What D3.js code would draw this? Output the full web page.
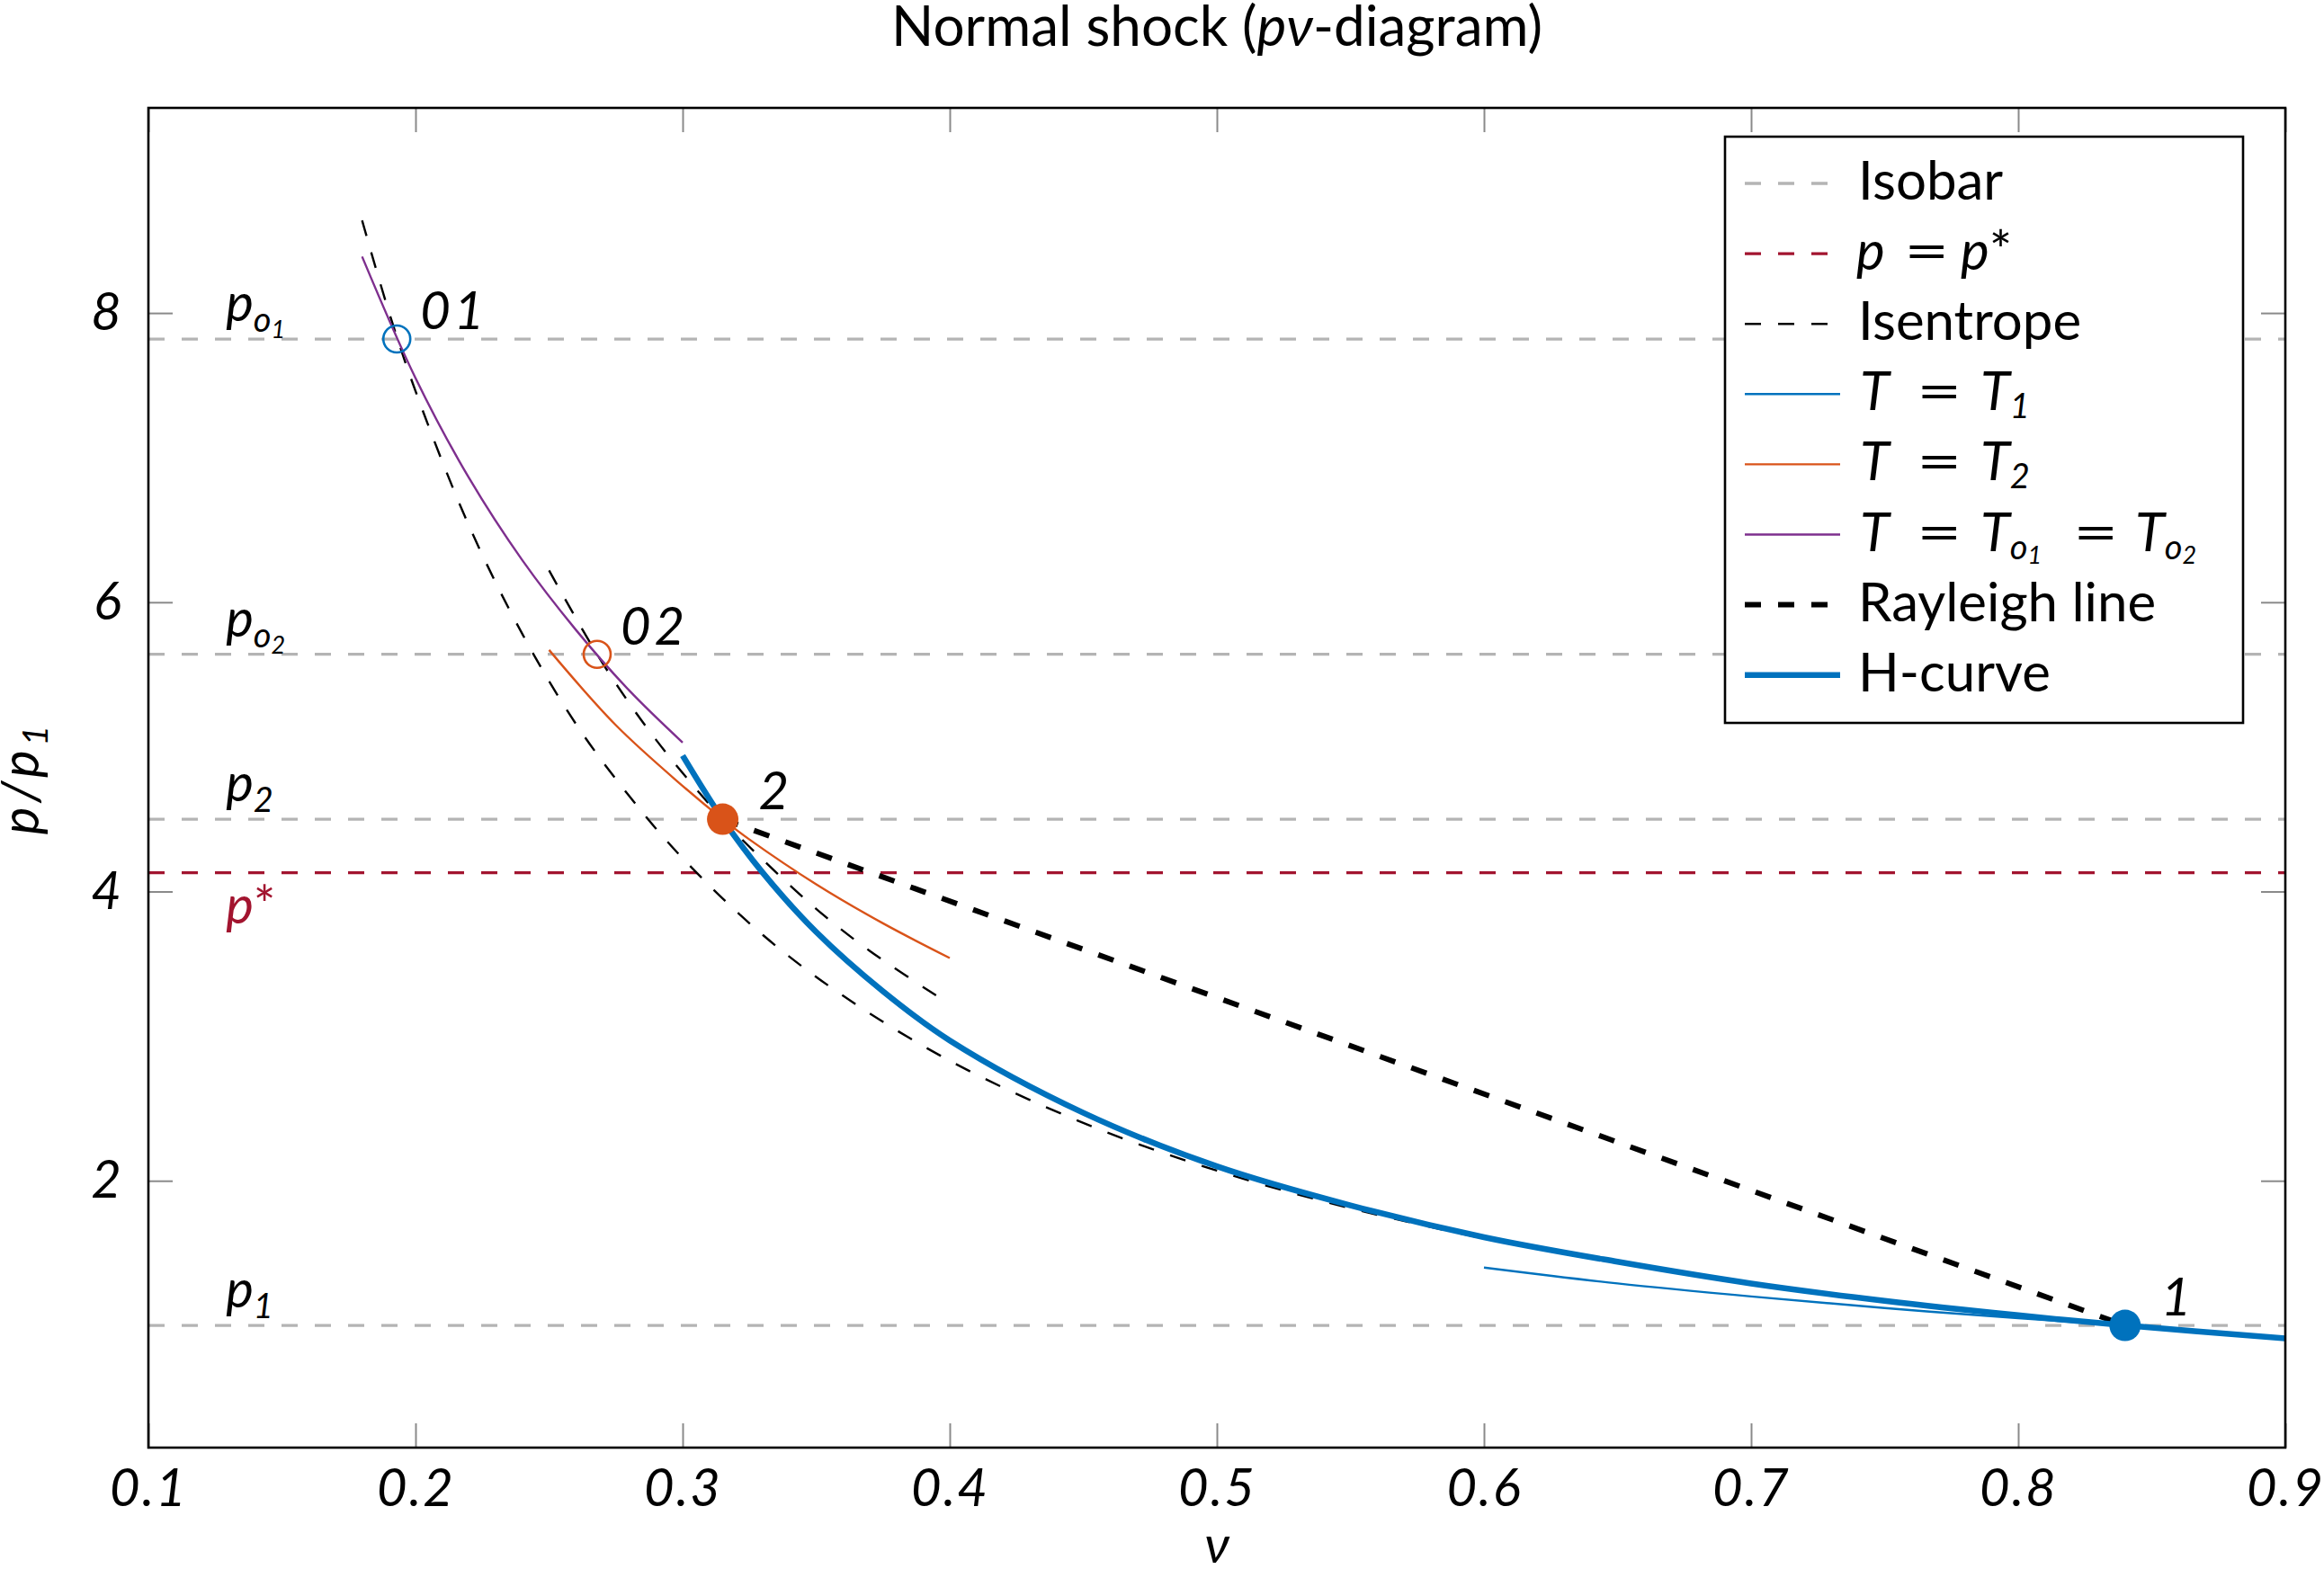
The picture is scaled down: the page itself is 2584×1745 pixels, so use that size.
<!DOCTYPE html>
<html>
<head>
<meta charset="utf-8"/>
<title>Normal shock (pv-diagram)</title>
<script src="https://d3js.org/d3.v7.min.js"></script>
<style>
    body { margin: 0; background: #ffffff; }
    svg text { font-family: 'Lato', 'DejaVu Sans', sans-serif; fill: #000000; }
</style>
</head>
<body>
<div id="chart"></div>
<script>
    // axis ticks
    const xTicks = [0.1, 0.2, 0.3, 0.4, 0.5, 0.6, 0.7, 0.8, 0.9]
    const yTicks = [2, 4, 6, 8]

    // isobars p1, p2, p02, p01 and the critical pressure
    const isobarP = [1.0, 4.5, 5.64, 7.82]
    const isobarSub = ['1', '2', 'o', 'o']
    const isobarSubSub = ['', '', '2', '1']
    const pStar = 4.13
    const labelNu = 0.129

    // states 1, 2, 01, 02
    const stateNames = ['1', '2', '01', '02']
    const stateNu = [0.84, 0.315, 0.193, 0.268]
    const stateP = [1.0, 4.5, 7.82, 5.64]

    // isentrope through 1 (and 01)
    const isentropeANu = [0.18, 0.19, 0.20, 0.22, 0.24, 0.26, 0.28, 0.30, 0.33, 0.36, 0.40, 0.45, 0.50, 0.55, 0.60]
    const isentropeAP = [8.64, 8.01, 7.46, 6.53, 5.78, 5.16, 4.66, 4.23, 3.70, 3.28, 2.83, 2.40, 2.07, 1.81, 1.60]
    // isentrope through 2 (and 02)
    const isentropeBNu = [0.25, 0.27, 0.29, 0.315, 0.33, 0.35, 0.37, 0.40]
    const isentropeBP = [6.22, 5.58, 5.05, 4.50, 4.22, 3.88, 3.59, 3.22]

    // isotherms
    const isoT1Nu = [0.60, 0.65, 0.70, 0.75, 0.80, 0.84]
    const isoT1P = [1.40, 1.29, 1.20, 1.12, 1.05, 1.00]
    const isoT2Nu = [0.25, 0.275, 0.30, 0.315, 0.325, 0.35, 0.375, 0.40]
    const isoT2P = [5.67, 5.15, 4.73, 4.50, 4.36, 4.05, 3.78, 3.54]
    const isoT0Nu = [0.18, 0.20, 0.22, 0.24, 0.26, 0.28, 0.30]
    const isoT0P = [8.39, 7.55, 6.86, 6.29, 5.81, 5.39, 5.03]

    // Rayleigh line and Hugoniot curve
    const rayleighNu = [0.315, 0.84]
    const rayleighP = [4.5, 1.0]
    const hCurveNu = [0.30, 0.315, 0.33, 0.35, 0.375, 0.40, 0.45, 0.50, 0.55, 0.60, 0.65, 0.70, 0.75, 0.80, 0.84, 0.90]
    const hCurveP = [4.94, 4.50, 4.13, 3.72, 3.31, 2.97, 2.47, 2.10, 1.83, 1.61, 1.44, 1.29, 1.17, 1.07, 1.00, 0.91]

    const BLUE = '#0072bd'
    const ORANGE = '#d95319'
    const PURPLE = '#7e2f8e'
    const DARK_RED = '#a2142f'
    const ISOBAR_GRAY = '#b4b4b4'
    const TICK_GRAY = '#8a8a8a'
    const DASH = '18,19'

    const width = 2584
    const height = 1745
    const plot = { left: 165, right: 2541, top: 120, bottom: 1610 }

    const svg = d3.select('#chart').append('svg')
        .attr('width', width)
        .attr('height', height)

    const x = d3.scaleLinear().domain([0.1, 0.9]).range([plot.left, plot.right])
    const y = d3.scaleLinear().domain([0.155, 9.418]).range([plot.bottom, plot.top])

    svg.append('clipPath').attr('id', 'plotClip')
        .append('rect')
        .attr('x', plot.left).attr('y', plot.top)
        .attr('width', plot.right - plot.left)
        .attr('height', plot.bottom - plot.top)

    drawTitle()
    drawTicks()

    const layer = svg.append('g').attr('clip-path', 'url(#plotClip)')

    // isobars
    isobarP.forEach(p => {
        layer.append('line')
            .attr('x1', x(0.1)).attr('x2', x(0.9))
            .attr('y1', y(p)).attr('y2', y(p))
            .style('stroke', ISOBAR_GRAY)
            .style('stroke-width', 3.3)
            .style('stroke-dasharray', DASH)
    })
    layer.append('line')
        .attr('x1', x(0.1)).attr('x2', x(0.9))
        .attr('y1', y(pStar)).attr('y2', y(pStar))
        .style('stroke', DARK_RED)
        .style('stroke-width', 3.3)
        .style('stroke-dasharray', DASH)

    drawCurve(isentropeANu, isentropeAP, '#000000', 2.4, DASH)
    drawCurve(isentropeBNu, isentropeBP, '#000000', 2.4, DASH)
    drawCurve(isoT1Nu, isoT1P, BLUE, 2.4, null)
    drawCurve(isoT2Nu, isoT2P, ORANGE, 2.4, null)
    drawCurve(isoT0Nu, isoT0P, PURPLE, 2.4, null)
    drawCurve(rayleighNu, rayleighP, '#000000', 6, DASH)
    drawCurve(hCurveNu, hCurveP, BLUE, 6.5, null)

    // frame
    svg.append('rect')
        .attr('x', plot.left).attr('y', plot.top)
        .attr('width', plot.right - plot.left)
        .attr('height', plot.bottom - plot.top)
        .style('fill', 'none')
        .style('stroke', '#000000')
        .style('stroke-width', 2.6)

    drawIsobarLabels()
    drawStates()
    drawAxisLabels()
    drawLegend()

    function drawCurve(nu, p, color, strokeWidth, dash) {
        const line = d3.line()
            .x(d => x(d[0]))
            .y(d => y(d[1]))
            .curve(d3.curveCatmullRom.alpha(0.5))
        layer.append('path')
            .datum(nu.map((v, i) => [v, p[i]]))
            .attr('d', line)
            .style('fill', 'none')
            .style('stroke', color)
            .style('stroke-width', strokeWidth)
            .style('stroke-dasharray', dash)
    }

    function drawTitle() {
        const t = svg.append('text')
            .attr('x', (plot.left + plot.right) / 2)
            .attr('y', 51)
            .attr('text-anchor', 'middle')
            .style('font-size', '62px')
        t.append('tspan').text('Normal shock (')
        t.append('tspan').style('font-style', 'italic').text('pν')
        t.append('tspan').text('-diagram)')
    }

    function drawTicks() {
        const styleAxis = g => {
            g.select('.domain').remove()
            g.selectAll('.tick line').style('stroke', TICK_GRAY).style('stroke-width', 2)
            g.selectAll('.tick text')
                .style('font-family', "'Lato', sans-serif")
                .style('font-style', 'italic')
                .style('font-size', '58px')
                .style('letter-spacing', '2px')
                .style('fill', '#000000')
        }
        svg.append('g')
            .attr('transform', `translate(0,${plot.bottom})`)
            .call(d3.axisBottom(x).tickValues(xTicks).tickSize(-27).tickPadding(24).tickFormat(d3.format('.1f')))
            .call(styleAxis)
        svg.append('g')
            .attr('transform', `translate(0,${plot.top})`)
            .call(d3.axisTop(x).tickValues(xTicks).tickSize(-27).tickFormat(''))
            .call(styleAxis)
        svg.append('g')
            .attr('transform', `translate(${plot.left},0)`)
            .call(d3.axisLeft(y).tickValues(yTicks).tickSize(-27).tickPadding(28).tickFormat(d3.format('d')))
            .call(styleAxis)
        svg.append('g')
            .attr('transform', `translate(${plot.right},0)`)
            .call(d3.axisRight(y).tickValues(yTicks).tickSize(-27).tickFormat(''))
            .call(styleAxis)
    }

    function drawIsobarLabels() {
        isobarP.forEach((p, i) => {
            const t = svg.append('text')
                .attr('x', x(labelNu))
                .attr('y', y(p) - 20)
                .style('font-size', '58px')
                .style('font-style', 'italic')
            t.append('tspan').text('p')
            t.append('tspan').attr('dy', 12).style('font-size', '38px').text(isobarSub[i])
            if (isobarSubSub[i]) {
                t.append('tspan').attr('dy', 7).style('font-size', '27px').text(isobarSubSub[i])
            }
        })
        const s = svg.append('text')
            .attr('x', x(labelNu))
            .attr('y', y(pStar) + 56)
            .style('font-size', '58px')
            .style('font-style', 'italic')
            .style('fill', DARK_RED)
        s.append('tspan').style('fill', DARK_RED).text('p')
        s.append('tspan').style('font-style', 'normal').style('fill', DARK_RED).text('*')
    }

    function drawStates() {
        const colors = [BLUE, ORANGE, BLUE, ORANGE]
        stateNames.forEach((name, i) => {
            const filled = name.length === 1
            svg.append('circle')
                .attr('cx', x(stateNu[i]))
                .attr('cy', y(stateP[i]))
                .attr('r', filled ? 17.5 : 15)
                .style('fill', filled ? colors[i] : 'none')
                .style('stroke', colors[i])
                .style('stroke-width', filled ? 0 : 2.6)
            svg.append('text')
                .attr('x', x(stateNu[i]) + (filled ? 40 : 26))
                .attr('y', y(stateP[i]) - 11)
                .style('font-size', '58px')
                .style('font-style', 'italic')
                .style('letter-spacing', '4px')
                .text(name)
        })
    }

    function drawAxisLabels() {
        svg.append('text')
            .attr('x', (plot.left + plot.right) / 2)
            .attr('y', 1738)
            .attr('text-anchor', 'middle')
            .style('font-size', '58px')
            .style('font-style', 'italic')
            .text('ν')
        const t = svg.append('text')
            .attr('transform', `translate(43,${(plot.top + plot.bottom) / 2}) rotate(-90)`)
            .attr('text-anchor', 'middle')
            .style('font-size', '58px')
            .style('font-style', 'italic')
            .style('letter-spacing', '5px')
        t.append('tspan').text('p/p')
        t.append('tspan').attr('dy', 10).style('font-size', '39px').text('1')
    }

    function drawLegend() {
        const box = { x: 1918, y: 152, w: 576, h: 652 }
        const rowY0 = 204
        const rowStep = 78.1
        // label pieces: plain words, or math groups placed at fixed x
        const T = (sub, subsub) => {
            const s = [['T', 'i']]
            if (sub) s.push([sub, 'sub'])
            if (subsub) s.push([subsub, 'subsub'])
            return s
        }
        const entries = [
            { color: ISOBAR_GRAY, w: 3.3, dash: DASH, word: 'Isobar' },
            { color: DARK_RED, w: 3.3, dash: DASH, math: [
                { x: 2064, spans: [['p', 'i']] }, { x: 2117, eq: true },
                { x: 2180, spans: [['p', 'i'], ['*', 'n']] }] },
            { color: '#000000', w: 2.4, dash: DASH, word: 'Isentrope' },
            { color: BLUE, w: 2.4, dash: null, math: [
                { x: 2068, spans: T() }, { x: 2131, eq: true }, { x: 2202, spans: T('1') }] },
            { color: ORANGE, w: 2.4, dash: null, math: [
                { x: 2068, spans: T() }, { x: 2131, eq: true }, { x: 2202, spans: T('2') }] },
            { color: PURPLE, w: 2.4, dash: null, math: [
                { x: 2068, spans: T() }, { x: 2131, eq: true }, { x: 2202, spans: T('o', '1') },
                { x: 2305, eq: true }, { x: 2374, spans: T('o', '2') }] },
            { color: '#000000', w: 6, dash: DASH, word: 'Rayleigh line' },
            { color: BLUE, w: 6.5, dash: null, word: 'H-curve' }
        ]
        const g = svg.append('g')
        g.append('rect')
            .attr('x', box.x).attr('y', box.y)
            .attr('width', box.w).attr('height', box.h)
            .style('fill', '#ffffff')
            .style('stroke', '#000000')
            .style('stroke-width', 2.6)
        entries.forEach((e, i) => {
            const cy = rowY0 + i * rowStep
            const base = cy + 18
            g.append('line')
                .attr('x1', 1940).attr('x2', 2046)
                .attr('y1', cy).attr('y2', cy)
                .style('stroke', e.color)
                .style('stroke-width', e.w)
                .style('stroke-dasharray', e.dash)
            if (e.word) {
                g.append('text')
                    .attr('x', 2066).attr('y', base)
                    .style('font-size', '60px')
                    .text(e.word)
                return
            }
            e.math.forEach(m => {
                if (m.eq) {
                    g.append('text')
                        .attr('transform', `translate(${m.x},${base}) scale(1.45,1)`)
                        .style('font-size', '60px')
                        .text('=')
                    return
                }
                const t = g.append('text')
                    .attr('x', m.x).attr('y', base)
                    .style('font-size', '60px')
                m.spans.forEach(([txt, kind]) => {
                    const sp = t.append('tspan').text(txt)
                    if (kind === 'i') sp.style('font-style', 'italic')
                    if (kind === 'sub') sp.attr('dy', 9).style('font-size', '38px').style('font-style', 'italic')
                    if (kind === 'subsub') sp.attr('dy', 5).style('font-size', '27px').style('font-style', 'italic')
                })
            })
        })
    }
</script>
</body>
</html>
